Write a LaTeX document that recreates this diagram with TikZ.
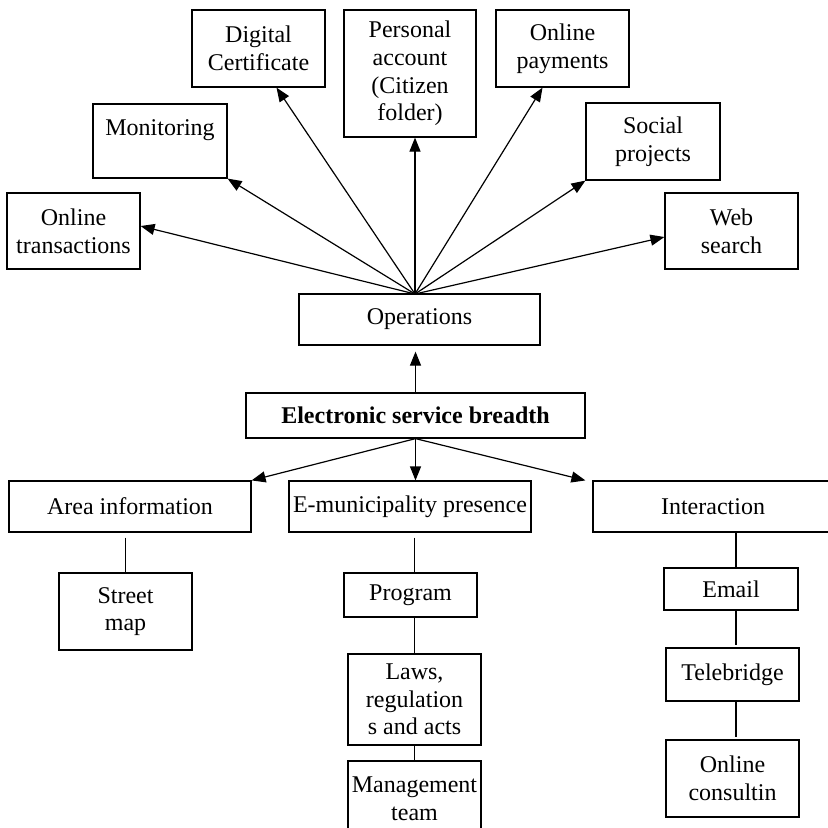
\documentclass[tikz,border=0pt]{standalone}
\usepackage{fontspec}
\setmainfont{Liberation Serif}
\usetikzlibrary{arrows.meta}
\begin{document}
\begin{tikzpicture}[x=0.5pt,y=-0.5pt,
  box/.style={draw, line width=0.6pt, inner sep=0pt, align=center,
    font=\fontsize{12}{13.8}\selectfont},
  arr/.style={line width=0.6pt, -{Triangle[length=7pt,width=5.5pt]}},
  link/.style={line width=0.6pt}]
\useasboundingbox (0,0) rectangle (828,827);
\clip (0,0) rectangle (828,827);
% top row boxes
\node[box, minimum width=66.5pt, minimum height=38.5pt] (dig) at (258.5,48.5) {Digital\\Certificate};
\node[box, minimum width=66pt, minimum height=63.5pt] (pers) at (410,73.5) {Personal\\account\\(Citizen\\folder)};
\node[box, minimum width=66.5pt, minimum height=38.5pt] (pay) at (562.5,48.5) {Online\\payments};
\node[box, minimum width=67pt, minimum height=37pt] (mon) at (160,141) {Monitoring\\\mbox{}};
\node[box, minimum width=67pt, minimum height=38.5pt] (soc) at (653,141.5) {Social\\projects};
\node[box, minimum width=66.5pt, minimum height=38pt] (tra) at (73.5,231) {Online\\transactions};
\node[box, minimum width=66.5pt, minimum height=38pt] (web) at (731.5,231) {Web\\search};
% centre
\node[box, minimum width=120.5pt, minimum height=25.5pt] (ops) at (419.5,319.5) {Operations};
\node[box, minimum width=169.5pt, minimum height=22.5pt] (esb) at (415.5,415.5) {\textbf{Electronic service breadth}};
% second level
\node[box, minimum width=121pt, minimum height=25.5pt] (area) at (130,506.5) {Area information};
\node[box, minimum width=121pt, minimum height=25.5pt] (emun) at (410,506.5) {E-municipality presence};
\node[box, minimum width=120pt, minimum height=25.5pt] (inter) at (713,506.5) {Interaction};
% leaves
\node[box, minimum width=66.5pt, minimum height=38.5pt] (street) at (125.5,611.5) {Street\\map};
\node[box, minimum width=66.5pt, minimum height=22pt] (prog) at (410.5,595) {Program};
\node[box, minimum width=66.5pt, minimum height=45.5pt] (laws) at (414.5,699.5) {Laws,\\regulation\\s and acts};
\node[box, minimum width=66.5pt, minimum height=38pt] (mgmt) at (414.5,799) {Management\\team};
\node[box, minimum width=67pt, minimum height=21pt] (email) at (731,589) {Email};
\node[box, minimum width=66.5pt, minimum height=26.5pt] (tele) at (732.5,674.5) {Telebridge};
\node[box, minimum width=66.5pt, minimum height=38.5pt] (cons) at (732.5,778.5) {Online\\consultin};
% hub coordinates
\coordinate (O) at (415,294);
\coordinate (ic) at (736,0);
% arrows from Operations
\draw[arr] (O) -- ([yshift=2.5pt]tra.east);
\draw[arr] (O) -- (mon.south east);
\draw[arr] (O) -- ([xshift=9pt]dig.south);
\draw[arr] (O) -- (O |- pers.south);
\draw[arr] (O) -- ([xshift=-10pt]pay.south);
\draw[arr] (O) -- (soc.south west);
\draw[arr] (O) -- ([yshift=-3pt]web.west);
% esb arrows
\draw[arr, shorten >=3pt] (esb.north) -- (esb.north |- ops.south);
\draw[arr] (esb.south) -- (area.north east);
\draw[arr] (esb.south) -- (esb.south |- emun.north);
\draw[arr] (esb.south) -- ([xshift=-3.5pt]inter.north west);
% plain links
\draw[link, shorten <=2.5pt] (street.north |- area.south) -- (street.north);
\draw[link, shorten <=2.5pt] (emun.south -| laws.north) -- (prog.north -| laws.north);
\draw[link] (prog.south -| laws.north) -- (laws.north);
\draw[link] (laws.south) -- (mgmt.north);
\draw[link] (inter.south -| ic) -- (email.north -| ic);
\draw[link, shorten >=1pt] (email.south -| ic) -- (tele.north -| ic);
\draw[link, shorten >=1pt] (tele.south -| ic) -- (cons.north -| ic);
\end{tikzpicture}
\end{document}
